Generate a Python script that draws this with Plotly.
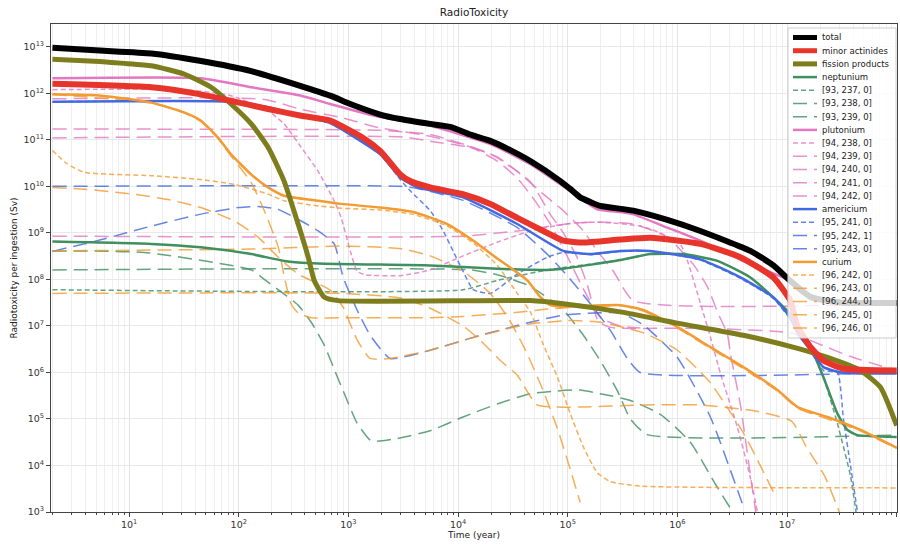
import plotly.graph_objects as go

# ---------------- data (time in years, radiotoxicity in Sv) ----------------
TOTAL_T = [2, 5.4, 16, 44, 130, 363, 682, 1040, 1951, 2970, 5575, 8490, 1.29e4, 1.97e4, 2.99e4, 4.56e4, 8.56e4, 1.06e5, 1.30e5, 1.61e5, 1.98e5, 3.97e5, 8.1e5, 1.62e6, 4.63e6, 7.51e6, 1.07e7, 1.64e7, 3.07e7, 1e8]
TOTAL_V = [9.5e12, 8.3e12, 7.2e12, 5.0e12, 3.0e12, 1.45e12, 8.9e11, 5.9e11, 3.5e11, 2.8e11, 2.2e11, 1.9e11, 1.3e11, 9.5e10, 6.0e10, 3.5e10, 1.3e10, 8.7e9, 5.8e9, 4.6e9, 3.8e9, 3.0e9, 1.9e9, 1.1e9, 4.1e8, 2.0e8, 9.3e7, 4.2e7, 3.2e7, 3.1e7]

MA_T = [2, 16, 45, 85, 185, 371, 682, 1364, 1951, 2970, 3660, 5575, 1.11e4, 1.97e4, 3.47e4, 5.99e4, 9.12e4, 1.39e5, 3.02e5, 5.67e5, 1.62e6, 3.76e6, 7.51e6, 1.07e7, 1.25e7, 1.64e7, 2.15e7, 3.27e7, 1e8]
MA_V = [1.6e12, 1.35e12, 9.5e11, 6.9e11, 4.6e11, 3.3e11, 2.6e11, 1.1e11, 5.8e10, 1.8e10, 1.3e10, 9.5e9, 6.8e9, 4.2e9, 2.1e9, 1.1e9, 6.8e8, 6.2e8, 7.2e8, 7.9e8, 5.8e8, 3.0e8, 1.1e8, 3.5e7, 9.5e6, 3.5e6, 1.8e6, 1.2e6, 1.1e6]

FP_T = [2, 5.4, 9, 16, 31.7, 56, 85, 130, 185, 259, 348, 430, 488, 601, 807, 4.56e4, 9.12e4, 3.02e5, 1e6, 4e6, 1.25e7, 2.34e7, 4.68e7, 7.11e7, 1e8]
FP_V = [5.4e12, 4.8e12, 4.4e12, 3.9e12, 2.6e12, 1.35e12, 5.9e11, 2.2e11, 6.9e10, 1.3e10, 1.55e9, 3.0e8, 9.5e7, 4.2e7, 3.5e7, 3.5e7, 3.0e7, 2.0e7, 1.15e7, 6.3e6, 3.3e6, 2.1e6, 1.1e6, 4.8e5, 7.2e4]

NP_T = [2, 16, 45, 130, 259, 530, 5575, 2.28e4, 6.51e4, 9.12e4, 3.02e5, 5.67e5, 1.13e6, 2.32e6, 4.63e6, 7.51e6, 1.07e7, 1.54e7, 2.15e7, 2.88e7, 3.56e7, 4.39e7, 1e8]
NP_V = [6.5e8, 5.8e8, 4.9e8, 3.5e8, 2.5e8, 2.2e8, 2.0e8, 1.7e8, 1.6e8, 1.7e8, 2.6e8, 3.5e8, 3.5e8, 2.5e8, 1.1e8, 4.1e7, 1.8e7, 4.9e6, 7.9e5, 1.3e5, 5.8e4, 4.5e4, 4.1e4]
NP237_T = [2, 1.11e4, 2.28e4, 6.51e4, 9.12e4, 3.02e5, 5.67e5, 1.13e6, 2.32e6, 4.63e6, 7.51e6, 1.07e7, 1.54e7, 2.15e7, 2.88e7, 3.79e7, 4.39e7]
NP237_V = [6e7, 6e7, 9.5e7, 1.6e8, 1.8e8, 2.6e8, 3.5e8, 3.5e8, 2.5e8, 1.1e8, 4.1e7, 1.8e7, 4.9e6, 7.9e5, 8e4, 6e3, 6e2]
NP238_T = [2, 1.29e4, 2.28e4, 4.56e4, 9.12e4, 1.39e5, 1.98e5, 2.84e5, 3.73e5, 5.32e5, 1e8]
NP238_V = [1.6e8, 1.6e8, 1.26e8, 7.1e7, 2.2e7, 6.3e6, 1.8e6, 4e5, 1e5, 4.6e4, 4.5e4]
NP239_T = [2, 13.7, 130, 171, 229, 348, 458, 601, 807, 897, 1200, 1580, 1757, 2787, 5575, 1.11e4, 2.28e4, 4.56e4, 8.04e4, 1.30e5, 1.98e5, 3.73e5, 7.0e5, 1.31e6, 2.22e6, 3.39e6]
NP239_V = [4.1e8, 3.8e8, 1.6e8, 1.0e8, 6e7, 2.8e7, 1.2e7, 3.9e6, 7.2e5, 4e5, 8.1e4, 3.5e4, 3.3e4, 3.8e4, 5.6e4, 1.1e5, 2.1e5, 3.5e5, 4e5, 4.2e5, 3.5e5, 2.5e5, 1.26e5, 3.2e4, 4e3, 8e2]

PU_T = [2, 45, 130, 371, 682, 1951, 5575, 1.97e4, 4.56e4, 1.06e5, 1.86e5, 3.02e5, 3.97e5, 8.1e5, 1.62e6, 4.63e6, 1.07e7, 1.25e7, 1.89e7, 1e8]
PU_V = [2.1e12, 2.1e12, 1.35e12, 8.9e11, 5.9e11, 3.1e11, 2.0e11, 8.1e10, 3.0e10, 7.9e9, 3.2e9, 2.8e9, 2.5e9, 1.3e9, 6.8e8, 2.1e8, 9.3e7, 5.9e7, 3.5e7, 3.1e7]
PU238_T = [2, 31.7, 85, 185, 259, 371, 530, 742, 860, 1040, 1200, 1423, 2970, 5575, 1.11e4, 2.28e4, 4.56e4, 1.06e5, 1.98e5, 4.59e5, 7e5, 1.07e6, 1.23e6, 1.62e6, 2e6, 2.47e6, 3.53e6, 4.63e6, 5.37e6]
PU238_V = [1.2e12, 1.2e12, 8.9e11, 4.2e11, 2.2e11, 6.9e10, 2.1e10, 4.9e9, 2.1e9, 4.1e8, 1.5e8, 1.26e8, 1.2e8, 1.6e8, 3.2e8, 6.3e8, 1.1e9, 1.6e9, 1.7e9, 1.4e9, 1.0e9, 5.6e8, 2.6e8, 3.1e7, 5.8e6, 9.5e5, 6.6e4, 5.5e3, 1e3]
PU239_T = [2, 3162, 5575, 1.29e4, 2.28e4, 3.47e4, 5.99e4, 9.12e4, 1.39e5, 1.86e5, 2.61e5, 3.97e5, 1e8]
PU239_V = [1.1e11, 1.15e11, 9.3e10, 6.9e10, 4.3e10, 2.1e10, 6.8e9, 3e9, 1.1e9, 4.1e8, 1.5e8, 3.5e7, 3.0e7]
PU240_T = [2, 1951, 5575, 1.97e4, 4.56e4, 6.94e4, 9.12e4, 1.2e5, 1.5e5, 1.9e5, 2.45e5, 1.62e6, 1.07e7, 2.0e7, 3.8e7, 1e8]
PU240_V = [1.7e11, 1.6e11, 1.3e11, 5e10, 1.26e10, 2.5e9, 1e9, 3.2e8, 8e7, 1.26e7, 9.3e6, 8.9e6, 7.1e6, 4e6, 2.2e6, 1.1e6]
PU241_T = [2, 171, 371, 860, 1951, 5575, 1.29e4, 2.28e4, 3.47e4, 5e4, 7e4, 1e5, 1.4e5, 2e5, 3e5, 4.6e5]
PU241_V = [7.6e11, 7.4e11, 4.5e11, 3e11, 1.8e11, 1.2e11, 7e10, 3.5e10, 1.5e10, 5e9, 1.5e9, 3e8, 6e7, 1.5e7, 1e7, 9e6]
PU242_T = [2, 1.11e4, 3.47e4, 1.06e5, 1.98e5, 3.97e5, 8.1e5, 1.40e6, 1.88e6, 2.32e6, 2.86e6, 3.05e6, 3.76e6, 4.63e6, 5.2e6]
PU242_V = [8.5e8, 8.5e8, 1.1e9, 1.6e9, 1.7e9, 1.55e9, 8.1e8, 2.1e8, 6.9e7, 2e7, 6.6e6, 2.5e6, 2e5, 6.3e3, 1e3]

AM_T = [2, 85, 185, 371, 682, 1951, 2970, 4245, 1.11e4, 3.47e4, 9.12e4, 1.61e5, 3.02e5, 5.67e5, 1.62e6, 3.76e6, 7.51e6, 1.07e7, 1.25e7, 1.64e7, 2.15e7, 3.27e7, 1e8]
AM_V = [6.6e11, 6.6e11, 5.0e11, 3.3e11, 2.3e11, 4.9e10, 1.55e10, 9.5e9, 5.8e9, 1.55e9, 4.1e8, 3.5e8, 4.1e8, 4.1e8, 2.7e8, 1.1e8, 4.1e7, 1.5e7, 6.9e6, 3.0e6, 1.3e6, 9.8e5, 9.5e5]
AM241_T = [2, 85, 185, 371, 682, 1951, 2970, 3660, 5575, 7330, 9040, 1.11e4, 1.38e4, 1.97e4, 3.47e4, 6.51e4, 9.12e4, 1.61e5, 3.02e5, 5.67e5, 1.62e6, 3.76e6, 7.51e6, 1.07e7, 1.64e7, 2.15e7, 2.88e7, 3.27e7, 3.79e7, 4.39e7]
AM241_V = [6.6e11, 6.6e11, 5e11, 3.3e11, 2.3e11, 4.9e10, 1.4e10, 8e9, 3e9, 1.1e9, 4e8, 1.5e8, 6e7, 5e7, 1.3e8, 3e8, 3.8e8, 3.4e8, 4e8, 4e8, 2.6e8, 1.05e8, 3.9e7, 1.4e7, 2.8e6, 1.1e6, 1e6, 1e5, 1e4, 1e3]
AM242_T = [2, 5.4, 16, 44, 99, 150, 229, 371, 530, 742, 897, 1200, 1580, 2407, 5575, 1.6e4, 4.56e4, 9.12e4, 3.02e5, 4.89e5, 1e6, 2e6, 4e6]
AM242_V = [4e8, 7e8, 1.4e9, 2.5e9, 3.5e9, 3.7e9, 3.2e9, 1.8e9, 1.1e9, 5.8e8, 1.1e8, 2.2e7, 6.3e6, 2e6, 3e6, 6.3e6, 1.2e7, 1.7e7, 1.9e7, 1.05e7, 2.1e6, 1.1e5, 1.3e3]
AM243_T = [2, 2970, 4245, 1.11e4, 3.47e4, 6.94e4, 1.06e5, 1.61e5, 2.45e5, 3.5e5, 4.59e5, 1e8]
AM243_V = [1e10, 1e10, 9e9, 5e9, 1.3e9, 3e8, 1e8, 3e7, 8e6, 2e6, 1e6, 1e6]

CM_T = [2, 5.6, 16, 31.7, 45, 65, 85, 130, 185, 259, 530, 860, 1951, 3900, 7965, 1.38e4, 2.28e4, 2.81e4, 4.28e4, 5.62e4, 6.94e4, 9.12e4, 3.02e5, 4.89e5, 1e6, 2e6, 4e6, 8.17e6, 1.25e7, 2.34e7, 4.68e7, 1e8]
CM_V = [9.5e11, 8.9e11, 6.3e11, 3.9e11, 2.6e11, 1.1e11, 4.9e10, 1.8e10, 9.5e9, 6.3e9, 4.9e9, 4.2e9, 3.5e9, 2.8e9, 1.55e9, 6.8e8, 2.8e8, 2.0e8, 9.5e7, 4.2e7, 2.8e7, 2.6e7, 2.8e7, 2.2e7, 9.5e6, 3.5e6, 1.3e6, 4.2e5, 1.8e5, 1.1e5, 5.8e4, 2.4e4]
CM242_T = [2, 2.7, 3.9, 16, 45, 91, 185, 259, 530, 860, 1951, 3900, 7965, 1.38e4, 2.28e4, 3.47e4, 4.56e4, 5.99e4, 8.04e4, 1.06e5, 1.39e5, 1.86e5, 2.45e5, 4.59e5, 1e8]
CM242_V = [5.9e10, 3.1e10, 2e10, 1.7e10, 1.4e10, 1.1e10, 6.8e9, 4.9e9, 3.8e9, 3.4e9, 3.1e9, 2.5e9, 1.4e9, 6e8, 2e8, 5e7, 2e7, 4e6, 8e5, 1.26e5, 2.5e4, 7e3, 4.5e3, 3.6e3, 3.3e3]
CM243_T = [2, 3.9, 11, 22.7, 45, 91, 150, 229, 348, 682, 897, 1200, 1580, 2407, 5575, 1.29e4, 3e4, 4.56e4, 1e5, 2e5, 5e5, 1e6, 2e6, 4e6, 8e6]
CM243_V = [9.5e9, 8.7e9, 6.8e9, 5.2e9, 3.5e9, 1.8e9, 8.1e8, 3e8, 1.3e8, 5.9e7, 2.5e7, 5e6, 2e6, 2e6, 3e6, 5.4e6, 9e6, 1.1e7, 1.3e7, 1.2e7, 7e6, 3e6, 6e5, 5e4, 2e3]
CM244_T = [2, 16, 31.7, 45, 65, 85, 130, 171, 229, 259, 300, 348, 458, 860, 5575, 1.11e4, 3e4, 6.5e4, 1.06e5, 3.02e5, 4.89e5, 1e6, 2e6, 4e6, 8.17e6, 1.25e7, 2.34e7, 4.68e7, 1e8]
CM244_V = [9.4e11, 6.2e11, 3.8e11, 2.5e11, 1.05e11, 4.5e10, 1.2e10, 3e9, 5e8, 1.2e8, 3e7, 1.9e7, 1.5e7, 1.5e7, 1.5e7, 1.6e7, 1.9e7, 2.3e7, 2.5e7, 2.7e7, 2.1e7, 9e6, 3.3e6, 1.2e6, 4e5, 1.7e5, 1e5, 5.5e4, 2.3e4]
CM245_T = [2, 130, 860, 2970, 5575, 1.11e4, 1.97e4, 2.99e4, 4.28e4, 5.99e4, 8.04e4, 1.06e5, 1.3e5]
CM245_V = [4.1e8, 4.5e8, 5.2e8, 4.6e8, 3.2e8, 1.5e8, 5e7, 1.26e7, 2.5e6, 4e5, 6.3e4, 8e3, 1.6e3]
CM246_T = [2, 860, 3000, 5575, 1.11e4, 1.6e4, 2.43e4, 3.47e4, 5.28e4, 1.3e5, 5e5, 1.6e6, 5e6, 1.1e7, 1.5e7, 2.2e7, 3e7]
CM246_V = [5e7, 5e7, 4e7, 2.4e7, 1e7, 4.9e6, 1.8e6, 8.7e5, 2e5, 1.8e5, 2e5, 2e5, 1.5e5, 9e4, 2.5e4, 6e3, 1e3]

X_TICKS = [10, 100, 1e3, 1e4, 1e5, 1e6, 1e7, 1e8]
X_TICKTEXT = ["10<sup>1</sup>", "10<sup>2</sup>", "10<sup>3</sup>", "10<sup>4</sup>", "10<sup>5</sup>", "10<sup>6</sup>", "10<sup>7</sup>", "10<sup>8</sup>"]
Y_TICKS = [1e3, 1e4, 1e5, 1e6, 1e7, 1e8, 1e9, 1e10, 1e11, 1e12, 1e13]
Y_TICKTEXT = ["10<sup>%d</sup>" % k for k in range(3, 14)]

# ---------------- styles ----------------
BLACK = "#000000"
RED = "#e8352b"
OLIVE = "#7d7d1e"
GREEN = "#3f8f5f"
PINK = "#e377c2"
BLUE = "#4169e1"
ORANGE = "#f39a30"
SHORT = "5px,3px"
LONG = "14px,7px"

series = [
    ("total", TOTAL_T, TOTAL_V, BLACK, 6, "solid", 1.0),
    ("minor actinides", MA_T, MA_V, RED, 6, "solid", 1.0),
    ("fission products", FP_T, FP_V, OLIVE, 5, "solid", 1.0),
    ("neptunium", NP_T, NP_V, GREEN, 2.5, "solid", 1.0),
    ("[93, 237, 0]", NP237_T, NP237_V, GREEN, 1.5, SHORT, 0.8),
    ("[93, 238, 0]", NP238_T, NP238_V, GREEN, 1.5, LONG, 0.8),
    ("[93, 239, 0]", NP239_T, NP239_V, GREEN, 1.5, LONG, 0.8),
    ("plutonium", PU_T, PU_V, PINK, 2.5, "solid", 1.0),
    ("[94, 238, 0]", PU238_T, PU238_V, PINK, 1.5, SHORT, 0.8),
    ("[94, 239, 0]", PU239_T, PU239_V, PINK, 1.5, LONG, 0.8),
    ("[94, 240, 0]", PU240_T, PU240_V, PINK, 1.5, LONG, 0.8),
    ("[94, 241, 0]", PU241_T, PU241_V, PINK, 1.5, LONG, 0.8),
    ("[94, 242, 0]", PU242_T, PU242_V, PINK, 1.5, LONG, 0.8),
    ("americium", AM_T, AM_V, BLUE, 2.5, "solid", 1.0),
    ("[95, 241, 0]", AM241_T, AM241_V, BLUE, 1.5, SHORT, 0.8),
    ("[95, 242, 1]", AM242_T, AM242_V, BLUE, 1.5, LONG, 0.8),
    ("[95, 243, 0]", AM243_T, AM243_V, BLUE, 1.5, LONG, 0.8),
    ("curium", CM_T, CM_V, ORANGE, 2.5, "solid", 1.0),
    ("[96, 242, 0]", CM242_T, CM242_V, ORANGE, 1.5, SHORT, 0.8),
    ("[96, 243, 0]", CM243_T, CM243_V, ORANGE, 1.5, LONG, 0.8),
    ("[96, 244, 0]", CM244_T, CM244_V, ORANGE, 1.5, LONG, 0.8),
    ("[96, 245, 0]", CM245_T, CM245_V, ORANGE, 1.5, LONG, 0.8),
    ("[96, 246, 0]", CM246_T, CM246_V, ORANGE, 1.5, LONG, 0.8),
]

fig = go.Figure()
# thin isotopes first, then element lines, then the thick totals on top
order = [i for i, s in enumerate(series) if s[4] < 2] + \
        [i for i, s in enumerate(series) if 2 <= s[4] < 4] + \
        [2, 1, 0]
for i in order:
    name, t, v, col, w, dash, op = series[i]
    fig.add_trace(go.Scatter(
        x=t, y=v, mode="lines", name=name, opacity=op,
        line=dict(color=col, width=w, dash=dash, shape="spline", smoothing=0.5),
        showlegend=False, hoverinfo="name+x+y"))

# ---------------- compact legend box (matplotlib-like) ----------------
L, R, T, B = 51, 897, 24, 512
W, H = R - L, B - T
def px(x):
    return (x - L) / W
def py(y):
    return (B - y) / H

shapes = [dict(type="rect", xref="paper", yref="paper",
               x0=px(788), x1=px(896), y0=py(338), y1=py(28),
               fillcolor="rgba(255,255,255,0.82)", line=dict(color="#cccccc", width=1),
               layer="above")]
annotations = []
for i, (name, t, v, col, w, dash, op) in enumerate(series):
    yy = 37.5 + 13.2 * i
    shapes.append(dict(type="line", xref="paper", yref="paper",
                       x0=px(793), x1=px(817), y0=py(yy), y1=py(yy),
                       line=dict(color=col, width=min(w, 5), dash=dash),
                       opacity=op, layer="above"))
    annotations.append(dict(text=name, xref="paper", yref="paper",
                            x=px(820), y=py(yy), xanchor="left", yanchor="middle",
                            showarrow=False, font=dict(size=8.5, color="#222")))

minor_vals = [m * 10 ** e for e in range(0, 8) for m in range(2, 10)]

fig.update_layout(
    width=900, height=544,
    margin=dict(l=L, r=900 - R, t=T, b=544 - B, autoexpand=False),
    paper_bgcolor="white", plot_bgcolor="white",
    font=dict(family="DejaVu Sans", size=9, color="#333"),
    title=dict(text="RadioToxicity", x=0.5, xref="paper", xanchor="center",
               y=1 - 12 / 544, yref="container", yanchor="middle",
               font=dict(size=10.5, color="#222")),
    shapes=shapes, annotations=annotations,
    showlegend=False,
)
fig.update_xaxes(
    type="log", range=[0.2878, 8.003], automargin=False,
    tickmode="array", tickvals=X_TICKS, ticktext=X_TICKTEXT,
    ticks="outside", ticklen=4, tickcolor="#444",
    showline=True, linecolor="#444", linewidth=1, mirror=True,
    showgrid=True, gridcolor="#e4e4e4", gridwidth=1,
    minor=dict(tickmode="array", tickvals=minor_vals, ticks="outside", ticklen=2,
               tickcolor="#444", showgrid=True, gridcolor="#efefef", gridwidth=1),
    tickfont=dict(size=9.5, color="#333"),
    title=dict(text="Time (year)", standoff=2, font=dict(size=9, color="#222")),
    zeroline=False,
)
fig.update_yaxes(
    type="log", range=[3, 13.49], automargin=False,
    tickmode="array", tickvals=Y_TICKS, ticktext=Y_TICKTEXT,
    ticks="outside", ticklen=4, tickcolor="#444",
    showline=True, linecolor="#444", linewidth=1, mirror=True,
    showgrid=True, gridcolor="#e8e8e8", gridwidth=1,
    tickfont=dict(size=9.5, color="#333"),
    title=dict(text="Radiotoxicity per ingestion (Sv)", standoff=4,
               font=dict(size=9, color="#222")),
    zeroline=False,
)

# remove the browser's default 8px page margin so the 900x544 figure fills the window
fig.write_html("out.html", config={"displayModeBar": False},
               post_script="document.body.style.margin='0px';document.body.style.overflow='hidden';")
